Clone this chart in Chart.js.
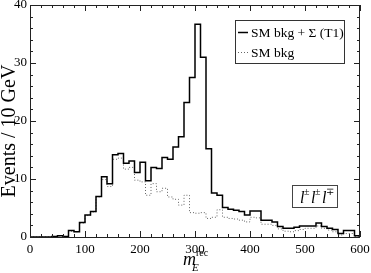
<!DOCTYPE html>
<html lang="en">
<head>
    <meta charset="UTF-8">
    <script src="https://cdn.jsdelivr.net/npm/chart.js"></script>
    <title>m_E rec histogram</title>
    <style>
        body { margin: 0; background: #fff; }
        #wrap { width: 371px; height: 273px; }
    </style>
</head>
<body>
    <div id="wrap">
        <canvas id="histChart" width="371" height="273"></canvas>
    </div>

    <script>
        // bin edges (GeV), 10 GeV bins
        const binEdges = [0, 10, 20, 30, 40, 50, 60, 70, 80, 90,
            100, 110, 120, 130, 140, 150, 160, 170, 180, 190,
            200, 210, 220, 230, 240, 250, 260, 270, 280, 290,
            300, 310, 320, 330, 340, 350, 360, 370, 380, 390,
            400, 410, 420, 430, 440, 450, 460, 470, 480, 490,
            500, 510, 520, 530, 540, 550, 560, 570, 580, 590, 600];

        // SM bkg + Sigma (T1)
        const smPlusSignal = [0, 0, 0, 0, 0.1, 0.2, 0.1, 1.1, 0.9, 2.5,
            3.8, 4.4, 7.0, 10.4, 9.2, 14.2, 14.4, 12.7, 13.1, 11.1,
            12.9, 9.7, 12.0, 11.8, 13.7, 13.4, 15.5, 17.3, 23.2, 27.5,
            36.7, 31.0, 15.2, 7.6, 7.2, 5.1, 4.8, 4.6, 4.4, 3.8,
            4.5, 4.5, 2.9, 2.9, 2.6, 1.8, 1.5, 1.5, 1.7, 1.9,
            1.9, 1.9, 2.4, 1.8, 1.5, 1.3, 0.6, 1.1, 1.1, 0.2];

        // SM bkg only
        const smBkg = [0, 0, 0, 0, 0.1, 0.2, 0.1, 1.0, 0.9, 2.4,
            3.7, 4.3, 6.9, 9.9, 8.7, 13.4, 13.6, 11.7, 12.0, 9.8,
            9.5, 7.2, 9.2, 7.8, 8.4, 6.9, 6.5, 5.5, 7.2, 4.2,
            4.1, 4.2, 3.2, 3.4, 4.7, 3.4, 3.2, 3.1, 2.9, 2.6,
            3.4, 3.3, 2.2, 2.2, 2.0, 1.4, 1.0, 0.9, 1.1, 1.3,
            1.5, 1.5, 1.9, 1.5, 1.2, 0.9, 0.35, 0.6, 0.6, 0.1];

        const xTickLabels = [0, 100, 200, 300, 400, 500, 600];
        const yTickLabels = [0, 10, 20, 30, 40];

        const serif = "'Liberation Serif', serif";
        Chart.defaults.font.family = serif;

        // step points: one per bin start, plus closing point at the last edge
        function toSteps(values) {
            const pts = values.map((v, i) => ({ x: binEdges[i], y: v }));
            pts.push({ x: binEdges[binEdges.length - 1], y: values[values.length - 1] });
            return pts;
        }

        // frame, inward ticks, legend, label box and axis titles
        const decorPlugin = {
            id: 'decor',
            afterDraw(chart) {
                const ctx = chart.ctx;
                const a = chart.chartArea;
                const xs = chart.scales.x;
                const ys = chart.scales.y;
                ctx.save();
                ctx.strokeStyle = '#222';
                ctx.lineWidth = 1;
                ctx.strokeRect(a.left + 0.5, a.top + 0.5, a.right - a.left - 1, a.bottom - a.top);

                ctx.beginPath();
                for (let v = 0; v <= 600; v += 20) {
                    const px = Math.round(xs.getPixelForValue(v)) + 0.5;
                    const len = v % 100 === 0 ? 6 : 3;
                    ctx.moveTo(px, a.bottom); ctx.lineTo(px, a.bottom - len);
                    ctx.moveTo(px, a.top); ctx.lineTo(px, a.top + len);
                }
                for (let v = 0; v <= 40; v += 2) {
                    const py = Math.round(ys.getPixelForValue(v)) + 0.5;
                    const len = v % 10 === 0 ? 6 : 3;
                    ctx.moveTo(a.left, py); ctx.lineTo(a.left + len, py);
                    ctx.moveTo(a.right, py); ctx.lineTo(a.right - len, py);
                }
                ctx.stroke();

                // legend
                const lx = a.right - 125, ly = a.top + 15;
                ctx.strokeStyle = '#333';
                ctx.strokeRect(lx + 0.5, ly + 0.5, 109, 43);
                ctx.fillStyle = '#000';
                ctx.font = '13.5px ' + serif;
                ctx.textBaseline = 'alphabetic';
                chart.data.datasets.forEach((ds, i) => {
                    const yy = ly + 12 + i * 20;
                    ctx.beginPath();
                    ctx.strokeStyle = ds.borderColor;
                    ctx.lineWidth = ds.borderWidth;
                    ctx.setLineDash(ds.borderDash || []);
                    ctx.moveTo(lx + 3, yy + 0.5);
                    ctx.lineTo(lx + 13, yy + 0.5);
                    ctx.stroke();
                    ctx.setLineDash([]);
                    ctx.fillText(ds.label, lx + 16, yy + 5);
                });

                // channel label box
                const bx = a.left + 262, by = a.top + 180;
                ctx.strokeStyle = '#444';
                ctx.lineWidth = 1;
                ctx.strokeRect(bx + 0.5, by + 0.5, 45, 22);
                const parts = ['\u00b1', '\u00b1', '\u2213'];
                let cx = bx + 8;
                parts.forEach(p => {
                    ctx.font = 'italic 16px ' + serif;
                    ctx.fillText('l', cx, by + 18);
                    ctx.font = '10px ' + serif;
                    ctx.fillText(p, cx + 4, by + 10);
                    cx += 11;
                });

                // x title m_E^rec
                const tx = (a.left + a.right) / 2 - 12;
                ctx.font = 'italic 18px ' + serif;
                ctx.fillText('m', tx, 265);
                ctx.font = 'italic 11px ' + serif;
                ctx.fillText('E', tx + 9, 271);
                ctx.font = '10px ' + serif;
                ctx.fillText('rec', tx + 13, 256);

                // y title
                ctx.translate(15, (a.top + a.bottom) / 2 + 10);
                ctx.rotate(-Math.PI / 2);
                ctx.font = '20px ' + serif;
                ctx.textAlign = 'center';
                ctx.fillText('Events / 10 GeV', 0, 0);
                ctx.restore();
            }
        };

        const ctx = document.getElementById('histChart').getContext('2d');
        const chart = new Chart(ctx, {
            type: 'line',
            data: {
                datasets: [
                    {
                        label: 'SM bkg + \u03a3 (T1)',
                        data: toSteps(smPlusSignal),
                        stepped: true,
                        borderColor: '#000',
                        borderWidth: 1.5,
                        pointRadius: 0,
                        fill: false,
                    },
                    {
                        label: 'SM bkg',
                        data: toSteps(smBkg),
                        stepped: true,
                        borderColor: '#666',
                        borderWidth: 1,
                        borderDash: [1, 2],
                        pointRadius: 0,
                        fill: false,
                    },
                ],
            },
            options: {
                responsive: false,
                animation: false,
                layout: { padding: { left: 0, right: 11, top: 5, bottom: 0 } },
                plugins: { legend: { display: false }, tooltip: { enabled: false } },
                scales: {
                    x: {
                        type: 'linear',
                        min: 0,
                        max: 600,
                        grid: { display: false, drawTicks: false },
                        border: { display: false },
                        afterBuildTicks: (s) => { s.ticks = xTickLabels.map(v => ({ value: v })); },
                        afterFit: (s) => { s.height = 36; s.paddingLeft = 0; s.paddingRight = 0; },
                        ticks: { color: '#000', font: { size: 13 }, padding: 5, maxRotation: 0 },
                    },
                    y: {
                        min: 0,
                        max: 40,
                        grid: { display: false, drawTicks: false },
                        border: { display: false },
                        afterBuildTicks: (s) => { s.ticks = yTickLabels.map(v => ({ value: v })); },
                        afterFit: (s) => { s.width = 30; s.paddingTop = 0; s.paddingBottom = 0; },
                        ticks: { color: '#000', font: { size: 13 }, padding: 3 },
                    },
                },
            },
            plugins: [decorPlugin],
        });
    </script>
</body>
</html>
